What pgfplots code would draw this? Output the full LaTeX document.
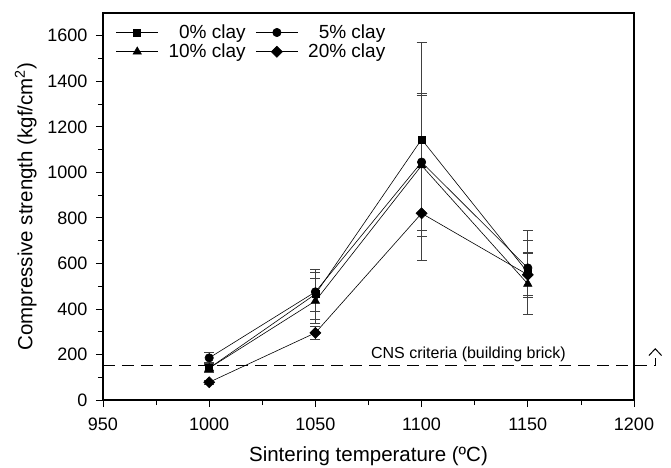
\documentclass[border=0pt]{standalone}
\usepackage{pgfplots}
\pgfplotsset{compat=1.18}
\usepackage{fontspec}
\setmainfont{Liberation Sans}
\begin{document}
\begin{tikzpicture}
\begin{axis}[
  scale only axis,
  width=531bp, height=387bp,
  xmin=950, xmax=1200, ymin=0, ymax=1700,
  xtick={950,1000,...,1200},
  ytick={0,200,...,1600},
  minor x tick num=1, minor y tick num=1,
  tick align=outside,
  xtick pos=left, ytick pos=left,
  major tick length=7bp, minor tick length=5bp,
  every tick/.style={black, line width=0.8pt},
  axis line style={line width=1.2pt},
  /pgf/number format/assume math mode=true,
  /pgf/number format/1000 sep={},
  tick label style={font=\fontsize{18bp}{20bp}\selectfont},
  xticklabel style={yshift=-7bp},
  yticklabel style={xshift=-5bp},
  xlabel={Sintering temperature (ºC)},
  ylabel={Compressive strength (kgf/cm\textsuperscript{2})},
  label style={font=\fontsize{20.5bp}{24bp}\selectfont},
  xlabel style={yshift=-10bp},
  ylabel style={yshift=4bp},
  clip=false,
  legend columns=2,
  legend image code/.code={\draw[#1, mark repeat=2, mark phase=2] plot coordinates {(0bp,0bp) (21bp,0bp) (42bp,0bp)};},
  legend style={draw=none, fill=none, at={(0.024,0.975)}, anchor=north west,
    font=\fontsize{19bp}{23bp}\selectfont, column sep=8bp, row sep=0pt,
    inner sep=0pt},
  legend cell align=right,
  every axis plot/.append style={black, line width=0.6pt},
  error bars/y dir=both, error bars/y explicit,
  error bars/error bar style={line width=0.8pt, black!75},
  error bars/error mark options={rotate=90, mark size=5bp, line width=0.8pt, black!75},
]
\addplot[mark=square*, mark size=3.5bp] coordinates {
 (1000,140) +- (0,20)
 (1050,465) +- (0,110)
 (1100,1145) +- (0,425)
 (1150,560) +- (0,185)
};
\addlegendentry{\phantom{1}0\% clay}
\addplot[mark=*, mark size=4.2bp] coordinates {
 (1000,185) +- (0,22)
 (1050,475) +- (0,85)
 (1100,1045) +- (0,300)
 (1150,580) +- (0,122)
};
\addlegendentry{\phantom{1}5\% clay}
\addplot[mark=triangle*, mark size=4.8bp] coordinates {
 (1000,140) +- (0,15)
 (1050,435) +- (0,100)
 (1100,1030) +- (0,310)
 (1150,510) +- (0,135)
};
\addlegendentry{10\% clay}
\addplot[mark=square*, mark size=3.9bp, mark options={rotate=45}] coordinates {
 (1000,78) +- (0,10)
 (1050,295) +- (0,30)
 (1100,820) +- (0,205)
 (1150,550) +- (0,100)
};
\addlegendentry{20\% clay}
\draw[dashed, dash pattern=on 12bp off 7bp, line width=1.2pt] (axis cs:950,150) -- (axis cs:1210,150);
\draw[line width=1pt] (axis cs:1210,150) -- (axis cs:1210,185);
\draw[line width=1pt] (axis cs:1207,195) -- (axis cs:1210,225) -- (axis cs:1213,195);
\node[anchor=south east, font=\fontsize{16bp}{18bp}\selectfont, inner sep=0bp] at (axis cs:1168,165) {CNS criteria (building brick)};
\end{axis}
\pgfresetboundingbox
\path[use as bounding box] ([xshift=-103bp,yshift=-68bp]current axis.south west) rectangle ([xshift=37bp,yshift=13bp]current axis.north east);
\end{tikzpicture}
\end{document}
